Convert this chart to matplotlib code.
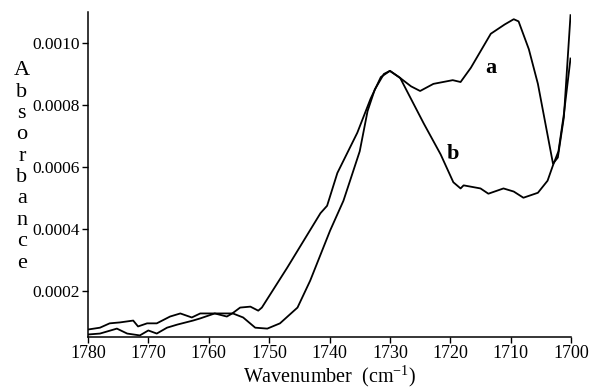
import matplotlib
matplotlib.use("Agg")
import matplotlib.pyplot as plt

wn_a = [1780, 1778, 1775.2, 1773.5, 1771.4, 1770, 1768.6, 1766.9, 1765.2, 1762.6,
        1761.4, 1759, 1757, 1756.1, 1754.8, 1753.1, 1751.8, 1751.2, 1747, 1744,
        1741.5, 1740.4, 1738.7, 1735.4, 1733.2, 1731.5, 1730,
        1728.5, 1726.5, 1725, 1722.8, 1719.6, 1718.3, 1716.6, 1713.3, 1711,
        1709.5, 1708.7, 1707, 1705.5, 1703.0, 1702.2, 1701.2, 1700.1]
abs_a = [0.000058, 0.000061, 0.000077, 0.000061, 0.000055, 0.000071, 0.000061, 0.00008, 0.00009, 0.000103,
         0.00011, 0.000126, 0.000116, 0.000126, 0.000145, 0.000148, 0.000135, 0.000145, 0.000274, 0.00037,
         0.00045, 0.000474, 0.00058, 0.00071, 0.00082, 0.00089, 0.00091,
         0.00089, 0.00086, 0.000845, 0.000868, 0.00088, 0.000874, 0.00092, 0.00103, 0.00106,
         0.001077, 0.00107, 0.00098, 0.000868, 0.00061, 0.00063, 0.00076, 0.00109]

wn_b = [1780, 1778, 1776.4, 1774.7, 1772.5, 1771.7, 1770.2, 1768.6, 1766.4, 1764.7,
        1762.8, 1761.4, 1758.6, 1756, 1754.3, 1752.3, 1750.3, 1748.2, 1745.3, 1743.2,
        1739.9, 1737.7, 1736.6, 1735, 1733.7, 1732.5, 1731, 1730,
        1728.3, 1724.4, 1721.6, 1719.5, 1718.3, 1717.8, 1715, 1713.7, 1711.2,
        1709.5, 1707.9, 1705.5, 1703.9, 1703.0, 1702.1, 1701.2, 1700.1]
abs_b = [0.000074, 0.00008, 0.000094, 0.000097, 0.000103, 0.000084, 0.000094, 0.000094, 0.000116, 0.000126,
         0.000113, 0.000126, 0.000126, 0.000126, 0.000113, 0.00008, 0.000077, 0.000094, 0.000145, 0.000232,
         0.000394, 0.00049, 0.000555, 0.00065, 0.00078, 0.00085, 0.0009, 0.00091,
         0.000887, 0.00074, 0.00064, 0.00055, 0.00053, 0.00054, 0.00053, 0.000513, 0.00053,
         0.00052, 0.0005, 0.000516, 0.000555, 0.000605, 0.00065, 0.00077, 0.00095]

xticks = [1780, 1770, 1760, 1750, 1740, 1730, 1720, 1710, 1700]
yticks = [0.0002, 0.0004, 0.0006, 0.0008, 0.0010]
ytick_labels = ["0.0002", "0.0004", "0.0006", "0.0008", "0.0010"]

plt.rcParams['font.family'] = ['Liberation Serif', 'DejaVu Serif']
plt.rcParams['mathtext.fontset'] = 'custom'
plt.rcParams['mathtext.rm'] = 'Liberation Serif'

fig = plt.figure(figsize=(5.9, 3.9), dpi=100)
ax = fig.add_axes([0.149, 0.136, 0.819, 0.833])
ax.plot(wn_a, abs_a, color='black', lw=1.3)
ax.plot(wn_b, abs_b, color='black', lw=1.3)

ax.set_xlim(1780, 1700)
ax.set_ylim(0.00005, 0.0011)
ax.set_xticks(xticks)
ax.set_xticklabels([str(t) for t in xticks], fontsize=13)
ax.set_yticks(yticks)
ax.set_yticklabels(ytick_labels, fontsize=12.5)
ax.tick_params(axis='both', direction='out', length=4, width=1, pad=2)
for s in ['top', 'right']:
    ax.spines[s].set_visible(False)
for s in ['left', 'bottom']:
    ax.spines[s].set_linewidth(1.1)

ax.set_xlabel(r"Wavenumber  (cm$\mathregular{^{-1}}$)", fontsize=14.5, labelpad=1)
fig.text(0.037, 0.572, "\n".join("Absorbance"), fontsize=16, ha='center', va='center',
         linespacing=1.17)

ax.text(1713.3, 0.00092, "a", fontsize=16, fontweight='bold', ha='center', va='center')
ax.text(1719.5, 0.00064, "b", fontsize=16, fontweight='bold', ha='center', va='center')

fig.savefig("out.png", dpi=100)
